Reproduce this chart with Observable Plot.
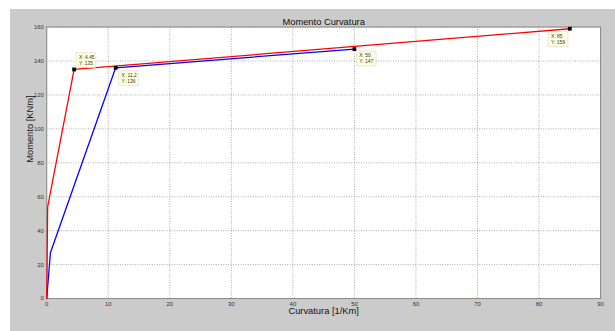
<!DOCTYPE html>
<html><head><meta charset="utf-8">
<script src="https://cdn.jsdelivr.net/npm/d3@7"></script>
<script src="https://cdn.jsdelivr.net/npm/@observablehq/plot@0.6"></script>
<style>
html,body{margin:0;padding:0;background:#fff;}
#bg{position:absolute;left:10px;top:9px;width:605px;height:322px;background:#cbcbcb;overflow:hidden;}
#bg svg{position:absolute;left:-10px;top:-9px;font-family:"Liberation Sans",Arial,sans-serif;}
</style></head>
<body><div id="bg"></div>
<script>
const title = "Momento Curvatura";
const xLabel = "Curvatura [1/Km]";
const yLabel = "Momento [KNm]";
const xTicks = [0,10,20,30,40,50,60,70,80,90];
const yTicks = [0,20,40,60,80,100,120,140,160];
const redX = [0, 0.15, 4.45, 85];
const redY = [0, 54, 135, 159];
const blueX = [0, 0.6, 11.2, 50];
const blueY = [0, 27, 136, 147];
const tipX = [4.45, 11.2, 50, 85];
const tipY = [135, 136, 147, 159];
const tipLabelX = ["4.45", "11.2", "50", "85"];
const tipLabelY = ["135", "136", "147", "159"];
// box offsets (layout only)
const tipDx = [2, 3, 2, -22];
const tipDy = [-17, 3, 2, 3];

const red = redX.map((x,i)=>({x, y: redY[i]}));
const blue = blueX.map((x,i)=>({x, y: blueY[i]}));
const tips = tipX.map((x,i)=>({x, y: tipY[i], t: `X: ${tipLabelX[i]}\nY: ${tipLabelY[i]}`, dx: tipDx[i], dy: tipDy[i]}));

function boxSymbol(w,h){ return {draw(ctx){ ctx.moveTo(0,0); ctx.lineTo(w,0); ctx.lineTo(w,h); ctx.lineTo(0,h); ctx.closePath(); }}; }

const tipMarks = tips.flatMap(d => [
  Plot.dot([d], {x:"x", y:"y", symbol: boxSymbol(20,15), dx: d.dx, dy: d.dy, fill:"#ffffe1", stroke:"#d8d8c0", strokeWidth:0.6}),
  Plot.text([d], {x:"x", y:"y", text:"t", dx: d.dx + 3, dy: d.dy + 7.5, textAnchor:"start", fontSize:5, lineHeight:1.2, fill:"#333"})
]);

const chart = Plot.plot({
  width: 615, height: 331,
  marginLeft: 47, marginRight: 5, marginTop: 27, marginBottom: 28,
  style: {background: "transparent", fontFamily: '"Liberation Sans",Arial,sans-serif'},
  x: {domain: [0, 90]},
  y: {domain: [0, 160]},
  marks: [
    Plot.frame({fill: "white"}),
    Plot.gridX(xTicks, {stroke: "#777", strokeOpacity: 0.9, strokeDasharray: "1,1.5", strokeWidth: 0.7}),
    Plot.gridY(yTicks, {stroke: "#777", strokeOpacity: 0.9, strokeDasharray: "1,1.5", strokeWidth: 0.7}),
    Plot.frame({stroke: "#8a8a8a", strokeWidth: 1}),
    Plot.axisX(xTicks, {tickSize: 0, tickPadding: 3, fontSize: 6, fill: "#333", label: null}),
    Plot.axisY(yTicks, {tickSize: 0, tickPadding: 3, fontSize: 6, fill: "#333", label: null}),
    Plot.line(blue, {x: "x", y: "y", stroke: "#0000ff", strokeWidth: 1.3}),
    Plot.line(red, {x: "x", y: "y", stroke: "#ff0000", strokeWidth: 1.3}),
    Plot.dot(tips, {x: "x", y: "y", symbol: "square", r: 2.2, fill: "black"}),
    ...tipMarks,
    Plot.text([title], {frameAnchor: "top", dy: -9, fontSize: 9.5, fill: "#111"}),
    Plot.text([xLabel], {frameAnchor: "bottom", dy: 16, fontSize: 9.5, fill: "#111"}),
    Plot.text([yLabel], {frameAnchor: "left", dx: -17, rotate: -90, fontSize: 9.5, fill: "#111"})
  ]
});
document.getElementById("bg").appendChild(chart);
</script>
</body></html>
